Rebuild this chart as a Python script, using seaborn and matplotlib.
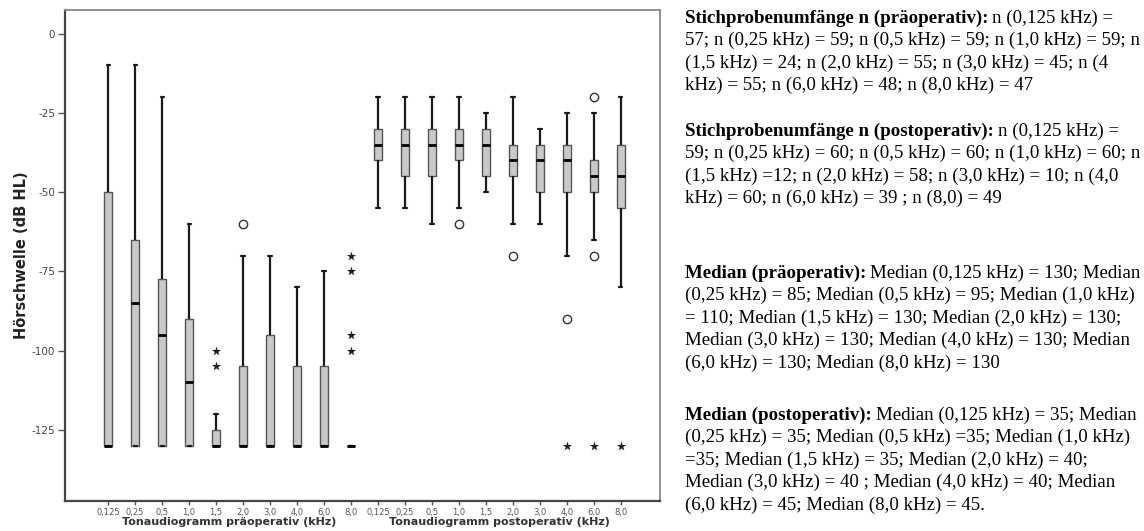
import matplotlib
matplotlib.use("Agg")
import numpy as np
import pandas as pd
import matplotlib.pyplot as plt
import seaborn as sns
from matplotlib.transforms import blended_transform_factory

# ---------------- data ----------------
freqs = ["0,125", "0,25", "0,5", "1,0", "1,5", "2,0", "3,0", "4,0", "6,0", "8,0"]

pre_whislo = [-130, -130, -130, -130, -130, -130, -130, -130, -130, -130]
pre_q1     = [-130, -130, -130, -130, -130, -130, -130, -130, -130, -130]
pre_med    = [-130, -85, -95, -110, -130, -130, -130, -130, -130, -130]
pre_q3     = [-50, -65, -77.5, -90, -125, -105, -95, -105, -105, -130]
pre_whishi = [-10, -10, -20, -60, -120, -70, -70, -80, -75, -130]

post_whislo = [-55, -55, -60, -55, -50, -60, -60, -70, -65, -80]
post_q1     = [-40, -45, -45, -40, -45, -45, -50, -50, -50, -55]
post_med    = [-35, -35, -35, -35, -35, -40, -40, -40, -45, -45]
post_q3     = [-30, -30, -30, -30, -30, -35, -35, -35, -40, -35]
post_whishi = [-20, -20, -20, -20, -25, -20, -30, -25, -25, -20]

# outliers: circles (mild) and stars (extreme)
mild_group = ["prä", "post", "post", "post", "post", "post"]
mild_freq  = ["2,0", "1,0", "2,0", "4,0", "6,0", "6,0"]
mild_value = [-60, -60, -70, -90, -20, -70]

ext_group = ["prä", "prä", "prä", "prä", "prä", "prä", "post", "post", "post"]
ext_freq  = ["1,5", "1,5", "8,0", "8,0", "8,0", "8,0", "4,0", "6,0", "8,0"]
ext_value = [-100, -105, -70, -75, -95, -100, -130, -130, -130]

y_ticks = [0, -25, -50, -75, -100, -125]
y_tick_labels = ["0", "-25", "-50", "-75", "-100", "-125"]

xlabel_pre = "Tonaudiogramm präoperativ (kHz)"
xlabel_post = "Tonaudiogramm postoperativ (kHz)"
ylabel = "Hörschwelle (dB HL)"

paragraphs = [
    ("Stichprobenumfänge n (präoperativ):", "n (0,125 kHz) =",
     ["57; n (0,25 kHz) = 59; n (0,5 kHz) = 59; n (1,0 kHz) = 59; n",
      "(1,5 kHz) = 24; n (2,0 kHz) = 55; n (3,0 kHz) = 45; n (4",
      "kHz) = 55; n (6,0 kHz) = 48; n (8,0 kHz) = 47"]),
    ("Stichprobenumfänge n (postoperativ):", "n (0,125 kHz) =",
     ["59; n (0,25 kHz) = 60; n (0,5 kHz) = 60; n (1,0 kHz) = 60; n",
      "(1,5 kHz) =12; n (2,0 kHz) = 58; n (3,0 kHz) = 10; n (4,0",
      "kHz) = 60; n (6,0 kHz) = 39 ; n (8,0) = 49"]),
    ("Median (präoperativ):", "Median (0,125 kHz) = 130; Median",
     ["(0,25 kHz) = 85; Median (0,5 kHz) = 95; Median (1,0 kHz)",
      "= 110; Median (1,5 kHz) = 130; Median (2,0 kHz) = 130;",
      "Median (3,0 kHz) = 130; Median (4,0 kHz) = 130; Median",
      "(6,0 kHz) = 130; Median (8,0 kHz) = 130"]),
    ("Median (postoperativ):", "Median (0,125 kHz) = 35; Median",
     ["(0,25 kHz) = 35; Median (0,5 kHz) =35; Median (1,0 kHz)",
      "=35; Median (1,5 kHz) = 35; Median (2,0 kHz) = 40;",
      "Median (3,0 kHz) = 40 ; Median (4,0 kHz) = 40; Median",
      "(6,0 kHz) = 45; Median (8,0 kHz) = 45."]),
]
para_first_line_px = [18, 131, 273, 415]
line_step_px = 22.6

# ---------------- build long-form data ----------------
order = [f"prä {f}" for f in freqs] + [f"post {f}" for f in freqs]
rows = []
for grp, wl, q1, md, q3, wh in [("prä", pre_whislo, pre_q1, pre_med, pre_q3, pre_whishi),
                                ("post", post_whislo, post_q1, post_med, post_q3, post_whishi)]:
    for i, f in enumerate(freqs):
        for v in (wl[i], q1[i], md[i], q3[i], wh[i]):
            rows.append({"cat": f"{grp} {f}", "value": v})
df = pd.DataFrame(rows)

mild_df = pd.DataFrame({"cat": [f"{g} {f}" for g, f in zip(mild_group, mild_freq)],
                        "value": mild_value})
ext_df = pd.DataFrame({"cat": [f"{g} {f}" for g, f in zip(ext_group, ext_freq)],
                       "value": ext_value})

# ---------------- figure ----------------
sns.set_theme(style="ticks")
plt.rcParams["font.family"] = ["DejaVu Sans"]

W, H = 1144, 531
fig = plt.figure(figsize=(W / 100, H / 100), dpi=100)
ax = fig.add_axes([65 / W, 1 - 501 / H, (660 - 65) / W, (501 - 10) / H])

sns.boxplot(data=df, x="cat", y="value", order=order, whis=(0, 100),
            showfliers=False, width=0.3, color="#c9c9c9", saturation=1,
            linecolor="#555555", linewidth=1,
            boxprops=dict(edgecolor="#555555", linewidth=1),
            medianprops=dict(color="#000000", linewidth=2),
            whiskerprops=dict(color="#1a1a1a", linewidth=1.6),
            capprops=dict(color="#1a1a1a", linewidth=1.6),
            capwidths=0.12, ax=ax)

sns.stripplot(data=mild_df, x="cat", y="value", order=order, jitter=False,
              marker="o", color="white", edgecolor="#333333", linewidth=1,
              size=6, ax=ax, zorder=5)
sns.stripplot(data=ext_df, x="cat", y="value", order=order, jitter=False,
              marker="*", color="#222222", linewidth=0, size=7, ax=ax, zorder=5)

ax.set_xlim(-1.6, 20.45)
ax.set_ylim(-147.5, 7.5)
ax.set_xticks(range(len(order)))
ax.set_xticklabels(freqs + freqs, fontsize=6, color="#555555")
ax.set_yticks(y_ticks)
ax.set_yticklabels(y_tick_labels, fontsize=7.5, color="#444444")
ax.tick_params(axis="x", length=3, width=1, color="#555555", pad=2)
ax.tick_params(axis="y", length=5, width=1, color="#555555", pad=2)
ax.set_xlabel("")
ax.set_ylabel(ylabel, fontsize=10.5, fontweight="bold", color="#222222", labelpad=2)

for side, sp in ax.spines.items():
    sp.set_visible(True)
    if side in ("left", "bottom"):
        sp.set_color("#444444")
        sp.set_linewidth(1.6)
    else:
        sp.set_color("#888888")
        sp.set_linewidth(1.3)

trans = blended_transform_factory(ax.transData, ax.transAxes)
ax.text(4.5, -(522 - 501) / 491, xlabel_pre, transform=trans, ha="center", va="center",
        fontsize=8, fontweight="bold", color="#333333")
ax.text(14.5, -(522 - 501) / 491, xlabel_post, transform=trans, ha="center", va="center",
        fontsize=8, fontweight="bold", color="#333333")

# ---------------- text panel ----------------
serif = ["Liberation Serif", "DejaVu Serif"]
fs = 13.6
x0 = 685
fig.canvas.draw()
renderer = fig.canvas.get_renderer()
for (bold, rest, lines), y0 in zip(paragraphs, para_first_line_px):
    tb = fig.text(x0 / W, 1 - y0 / H, bold, family=serif, fontsize=fs,
                  fontweight="bold", va="center", ha="left", color="black")
    bb = tb.get_window_extent(renderer)
    fig.text((bb.x1 + 4) / W, 1 - y0 / H, rest, family=serif, fontsize=fs,
             va="center", ha="left", color="black")
    for k, line in enumerate(lines, start=1):
        fig.text(x0 / W, 1 - (y0 + k * line_step_px) / H, line, family=serif,
                 fontsize=fs, va="center", ha="left", color="black")

fig.savefig("out.png", dpi=100, facecolor="white")
